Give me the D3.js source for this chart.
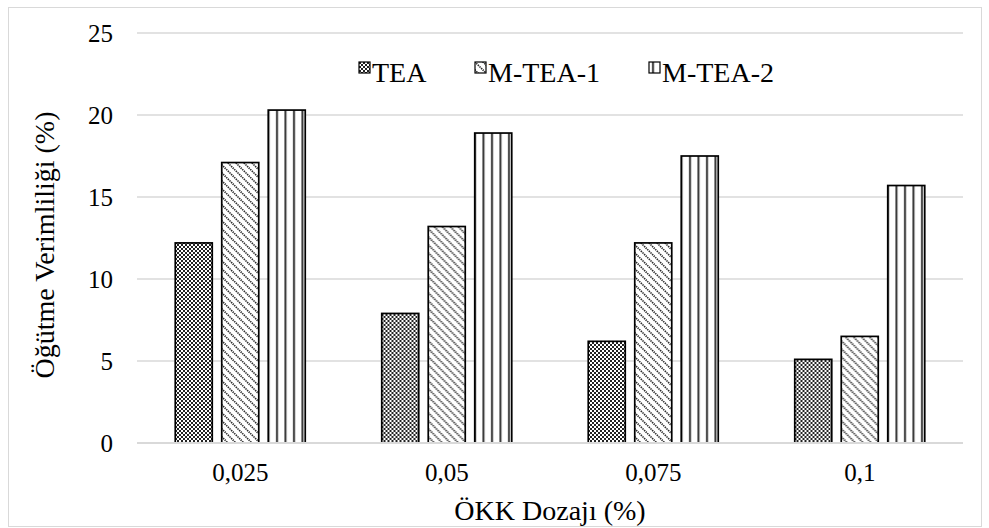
<!DOCTYPE html>
<html>
<head>
<meta charset="utf-8">
<script src="https://cdn.jsdelivr.net/npm/d3@7"></script>
<style>
  html, body { margin: 0; padding: 0; background: #fff; }
  svg { display: block; font-family: "Liberation Serif", "Times New Roman", serif; }
</style>
</head>
<body>
<svg id="chart" width="989" height="528"></svg>
<script>
// Dosage categories and grinding efficiency (%) per additive
const categories = ["0,025", "0,05", "0,075", "0,1"];
const seriesNames = ["TEA", "M-TEA-1", "M-TEA-2"];
const teaValues = [12.2, 7.9, 6.2, 5.1];
const mtea1Values = [17.1, 13.2, 12.2, 6.5];
const mtea2Values = [20.3, 18.9, 17.5, 15.7];
const yTickValues = [0, 5, 10, 15, 20, 25];

const seriesValues = [teaValues, mtea1Values, mtea2Values];
const patternIds = ["pat-check", "pat-diag", "pat-vert"];
const FONT = "Liberation Serif, Times New Roman, serif";

const svg = d3.select("#chart");
const plot = { left: 137, right: 963, top: 33, bottom: 443 };

// Fill patterns
const defs = svg.append("defs");
const pCheck = defs.append("pattern").attr("id", "pat-check")
  .attr("patternUnits", "userSpaceOnUse").attr("width", 4).attr("height", 4);
pCheck.append("rect").attr("width", 4).attr("height", 4).attr("fill", "#fff");
pCheck.append("rect").attr("x", 0).attr("y", 0).attr("width", 2).attr("height", 2).attr("fill", "#222");
pCheck.append("rect").attr("x", 2).attr("y", 2).attr("width", 2).attr("height", 2).attr("fill", "#222");

const pDiag = defs.append("pattern").attr("id", "pat-diag")
  .attr("patternUnits", "userSpaceOnUse").attr("width", 8).attr("height", 8);
pDiag.append("rect").attr("width", 8).attr("height", 8).attr("fill", "#fff");
pDiag.append("path").attr("d", "M-2,-2 L10,10 M-2,6 L2,10 M6,-2 L10,2")
  .attr("stroke", "#2a2a2a").attr("stroke-width", 1.7).attr("stroke-dasharray", "1.4 0.9");

const pVert = defs.append("pattern").attr("id", "pat-vert")
  .attr("patternUnits", "userSpaceOnUse").attr("width", 8.5).attr("height", 8);
pVert.append("rect").attr("width", 8.5).attr("height", 8).attr("fill", "#fff");
pVert.append("rect").attr("x", 3).attr("y", 0).attr("width", 2).attr("height", 8).attr("fill", "#333");

// Outer chart frame
svg.append("rect").attr("x", 8.5).attr("y", 7.5).attr("width", 973).attr("height", 519)
  .attr("fill", "none").attr("stroke", "#d9d9d9").attr("stroke-width", 1);

// Scales
const x0 = d3.scaleBand().domain(categories).range([plot.left, plot.right]).padding(0);
const groupW = 130;
const x1 = d3.scaleBand().domain(seriesNames)
  .range([(x0.bandwidth() - groupW) / 2, (x0.bandwidth() + groupW) / 2])
  .paddingInner(0.204).paddingOuter(0);
const y = d3.scaleLinear().domain([0, 25]).range([plot.bottom, plot.top]);

// Horizontal gridlines
svg.append("g").selectAll("line").data(yTickValues).join("line")
  .attr("x1", plot.left).attr("x2", plot.right)
  .attr("y1", d => y(d)).attr("y2", d => y(d))
  .attr("stroke", "#d9d9d9").attr("stroke-width", 1.5);

// Y axis labels
const yAxis = d3.axisLeft(y).tickValues(yTickValues).tickSize(0).tickPadding(24);
svg.append("g").attr("transform", `translate(${plot.left},0)`).call(yAxis)
  .call(g => g.select(".domain").remove())
  .call(g => g.attr("font-family", FONT).attr("font-size", 25))
  .call(g => g.selectAll("text").attr("fill", "#000"));

// Bars
const groups = svg.append("g").selectAll("g").data(categories).join("g")
  .attr("transform", d => `translate(${x0(d)},0)`);
groups.selectAll("rect")
  .data((c, ci) => seriesNames.map((s, si) => ({ s, si, v: seriesValues[si][ci] })))
  .join("rect")
  .attr("x", d => x1(d.s))
  .attr("width", x1.bandwidth())
  .attr("y", d => y(d.v))
  .attr("height", d => y(0) - y(d.v))
  .attr("fill", d => `url(#${patternIds[d.si]})`)
  .attr("stroke", "#000").attr("stroke-width", 1.7);

// Category axis baseline and labels
svg.append("line").attr("x1", plot.left).attr("x2", plot.right)
  .attr("y1", y(0)).attr("y2", y(0)).attr("stroke", "#d9d9d9").attr("stroke-width", 2);
const xAxis = d3.axisBottom(x0).tickSize(0).tickPadding(20);
svg.append("g").attr("transform", `translate(0,${plot.bottom})`).call(xAxis)
  .call(g => g.select(".domain").remove())
  .call(g => g.attr("font-family", FONT).attr("font-size", 25))
  .call(g => g.selectAll("text").attr("fill", "#000"));

// Axis titles
svg.append("text").attr("x", (plot.left + plot.right) / 2).attr("y", 520)
  .attr("text-anchor", "middle").attr("font-family", FONT).attr("font-size", 28)
  .text("ÖKK Dozajı (%)");
svg.append("text").attr("transform", `translate(54,245) rotate(-90)`)
  .attr("text-anchor", "middle").attr("font-family", FONT).attr("font-size", 28)
  .text("Öğütme Verimliliği (%)");

// Legend
const legendItems = [
  { name: seriesNames[0], x: 359 },
  { name: seriesNames[1], x: 475 },
  { name: seriesNames[2], x: 649 }
];
const lg = svg.append("g").selectAll("g").data(legendItems).join("g")
  .attr("transform", d => `translate(${d.x},62)`);
lg.append("rect").attr("width", 11).attr("height", 11)
  .attr("fill", (d, i) => `url(#${patternIds[i]})`).attr("stroke", "#000").attr("stroke-width", 1.2);
lg.append("text").attr("x", 13).attr("y", 20).attr("font-family", FONT).attr("font-size", 28)
  .text(d => d.name);
</script>
</body>
</html>
